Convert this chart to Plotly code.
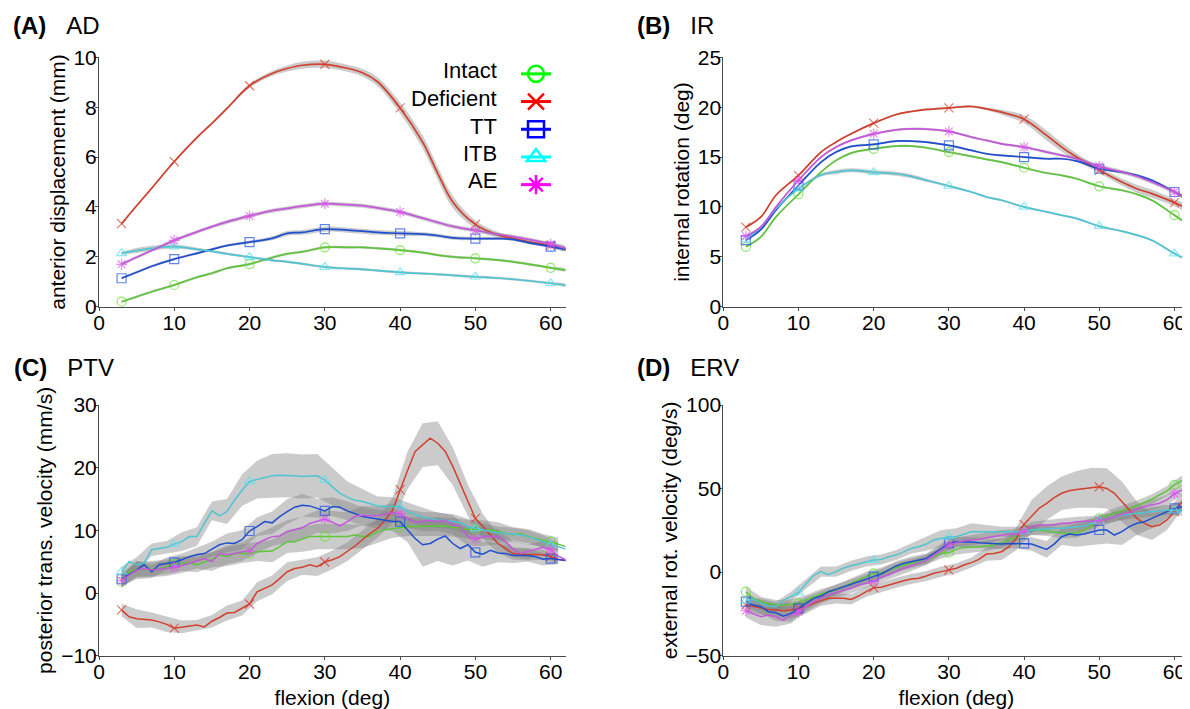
import plotly.graph_objects as go

FONT = "Liberation Sans, Arial, Helvetica, sans-serif"

# ---------------- data ----------------
series = ["Intact", "Deficient", "TT", "ITB", "AE"]
line_colors = {"Intact": "#5ec53a", "Deficient": "#d2402e", "TT": "#1f4fcf",
               "ITB": "#4fc4d2", "AE": "#c457dc"}
marker_colors = {"Intact": "#5ee02c", "Deficient": "#dc3a2a", "TT": "#1e50e6",
                 "ITB": "#55e3f0", "AE": "#e055f0"}
legend_colors = {"Intact": "#00ff00", "Deficient": "#ff0000", "TT": "#0000ff",
                 "ITB": "#00ffff", "AE": "#ff00ff"}
symbols = {"Intact": "circle-open", "Deficient": "x-thin-open", "TT": "square-open",
           "ITB": "triangle-up-open", "AE": "asterisk-open"}

marker_flexion = [3, 10, 20, 30, 40, 50, 60]
x_ticks = [0, 10, 20, 30, 40, 50, 60]

flexion_ab = [3, 5, 7, 10, 13, 15, 17, 20, 23, 25, 27, 30, 33, 35, 37, 40, 43, 45, 47, 50, 53, 55, 57, 60, 62]
flexion_cd = list(range(3, 63))

# (A) anterior displacement (mm)
ad_intact = [0.20, 0.40, 0.60, 0.87, 1.18, 1.34, 1.54, 1.71, 1.97, 2.12, 2.20, 2.38, 2.38, 2.38, 2.34, 2.27, 2.17, 2.07, 2.00, 1.94, 1.87, 1.80, 1.71, 1.56, 1.47]
ad_deficient = [3.33, 4.05, 4.75, 5.82, 6.78, 7.35, 7.95, 8.86, 9.35, 9.55, 9.68, 9.72, 9.56, 9.38, 9.02, 7.97, 6.60, 5.35, 4.20, 3.30, 2.88, 2.74, 2.60, 2.45, 2.30]
ad_tt = [1.14, 1.38, 1.62, 1.91, 2.14, 2.30, 2.45, 2.59, 2.74, 2.94, 2.98, 3.11, 3.07, 3.03, 2.98, 2.94, 2.91, 2.85, 2.76, 2.73, 2.73, 2.70, 2.57, 2.41, 2.30]
ad_itb = [2.14, 2.25, 2.34, 2.41, 2.30, 2.22, 2.12, 1.99, 1.86, 1.80, 1.72, 1.59, 1.53, 1.50, 1.45, 1.38, 1.33, 1.30, 1.26, 1.20, 1.15, 1.10, 1.04, 0.94, 0.86]
ad_ae = [1.70, 1.98, 2.25, 2.66, 3.00, 3.21, 3.40, 3.64, 3.85, 3.94, 4.03, 4.13, 4.09, 4.05, 3.96, 3.80, 3.55, 3.38, 3.22, 3.06, 2.90, 2.81, 2.70, 2.51, 2.34]
ad_band_intact = [0.05, 0.05, 0.05, 0.05, 0.05, 0.05, 0.05, 0.05, 0.05, 0.05, 0.05, 0.05, 0.05, 0.05, 0.05, 0.05, 0.05, 0.05, 0.05, 0.05, 0.05, 0.05, 0.05, 0.05, 0.05]
ad_band_deficient = [0.05, 0.05, 0.05, 0.05, 0.05, 0.05, 0.06, 0.08, 0.10, 0.12, 0.14, 0.15, 0.14, 0.15, 0.18, 0.22, 0.26, 0.26, 0.24, 0.16, 0.12, 0.10, 0.08, 0.08, 0.08]
ad_band_tt = [0.05, 0.05, 0.05, 0.05, 0.05, 0.05, 0.05, 0.06, 0.08, 0.10, 0.10, 0.10, 0.10, 0.10, 0.10, 0.10, 0.08, 0.08, 0.08, 0.06, 0.06, 0.06, 0.06, 0.06, 0.06]
ad_band_itb = [0.06, 0.10, 0.10, 0.08, 0.06, 0.05, 0.05, 0.05, 0.05, 0.05, 0.05, 0.05, 0.05, 0.05, 0.05, 0.05, 0.05, 0.05, 0.05, 0.05, 0.05, 0.05, 0.05, 0.05, 0.05]
ad_band_ae = [0.06, 0.06, 0.06, 0.07, 0.07, 0.07, 0.08, 0.08, 0.08, 0.08, 0.08, 0.08, 0.08, 0.08, 0.08, 0.08, 0.08, 0.08, 0.08, 0.08, 0.07, 0.07, 0.07, 0.07, 0.07]

# (B) internal rotation (deg)
ir_intact = [6.0, 7.0, 9.0, 11.27, 13.5, 14.67, 15.4, 15.83, 16.1, 16.1, 15.93, 15.5, 15.07, 14.77, 14.5, 13.93, 13.4, 13.17, 12.83, 12.07, 11.67, 11.27, 10.67, 9.17, 8.17]
ir_deficient = [7.97, 9.0, 11.17, 13.17, 15.5, 16.5, 17.33, 18.4, 19.27, 19.57, 19.77, 19.93, 20.07, 19.83, 19.5, 18.8, 17.17, 16.0, 15.0, 13.67, 12.5, 11.83, 11.33, 10.43, 9.73]
ir_tt = [6.67, 7.73, 9.67, 12.17, 14.5, 15.5, 16.07, 16.27, 16.6, 16.6, 16.5, 16.17, 15.67, 15.33, 15.17, 15.0, 14.83, 14.83, 14.6, 13.83, 13.5, 13.17, 12.67, 11.5, 10.67]
ir_itb = [6.73, 8.0, 9.83, 11.83, 13.2, 13.5, 13.67, 13.47, 13.33, 13.07, 12.67, 12.1, 11.5, 11.0, 10.67, 10.0, 9.5, 9.17, 8.83, 8.07, 7.57, 7.17, 6.67, 5.33, 4.57]
ir_ae = [7.07, 8.0, 10.0, 12.67, 15.0, 16.0, 16.67, 17.33, 17.73, 17.83, 17.8, 17.57, 17.0, 16.67, 16.33, 16.0, 15.5, 15.17, 14.83, 14.07, 13.5, 13.07, 12.5, 11.5, 10.67]
ir_band_intact = [0.1, 0.1, 0.1, 0.1, 0.1, 0.1, 0.1, 0.1, 0.1, 0.1, 0.1, 0.1, 0.1, 0.1, 0.1, 0.1, 0.1, 0.1, 0.1, 0.1, 0.1, 0.1, 0.1, 0.1, 0.1]
ir_band_deficient = [0.1, 0.1, 0.1, 0.1, 0.1, 0.1, 0.1, 0.1, 0.1, 0.1, 0.1, 0.1, 0.12, 0.15, 0.25, 0.4, 0.5, 0.45, 0.35, 0.3, 0.35, 0.4, 0.4, 0.35, 0.3]
ir_band_tt = [0.1, 0.1, 0.1, 0.1, 0.1, 0.1, 0.1, 0.1, 0.1, 0.1, 0.1, 0.1, 0.1, 0.1, 0.1, 0.1, 0.1, 0.1, 0.1, 0.12, 0.12, 0.12, 0.12, 0.12, 0.12]
ir_band_itb = [0.1, 0.1, 0.1, 0.12, 0.15, 0.2, 0.2, 0.2, 0.2, 0.2, 0.15, 0.12, 0.1, 0.1, 0.1, 0.1, 0.1, 0.1, 0.1, 0.1, 0.1, 0.1, 0.1, 0.1, 0.1]
ir_band_ae = [0.12, 0.12, 0.12, 0.12, 0.12, 0.12, 0.12, 0.12, 0.12, 0.12, 0.12, 0.12, 0.12, 0.12, 0.12, 0.12, 0.15, 0.15, 0.18, 0.2, 0.2, 0.2, 0.2, 0.2, 0.2]

# (C) posterior translational velocity (mm/s)
ptv_intact = [1.8, 3.4, 3.8, 3.9, 3.9, 3.8, 4.2, 4.6, 4.7, 4.8, 4.5, 5.0, 5.3, 6.1, 5.8, 6.3, 6.3, 6.3, 6.6, 6.6, 6.7, 7.4, 8.2, 8.2, 8.6, 9.0, 9.0, 9.0, 9.0, 9.1, 9.0, 9.3, 9.0, 9.1, 9.8, 10.1, 10.3, 10.5, 10.6, 10.6, 10.6, 10.6, 10.6, 10.7, 10.5, 10.3, 10.2, 10.1, 10.1, 10.1, 9.8, 9.5, 9.3, 9.5, 9.0, 8.7, 8.4, 8.2, 7.8, 7.4]
ptv_deficient = [-2.7, -3.8, -4.1, -4.2, -4.3, -4.6, -5.0, -5.6, -5.4, -5.2, -5.1, -5.4, -4.5, -3.9, -3.2, -3.1, -2.4, -1.75, 0.2, 0.7, 1.3, 2.3, 3.4, 3.9, 4.1, 4.5, 4.2, 4.95, 5.3, 5.8, 6.6, 7.5, 8.5, 9.5, 10.3, 11.6, 13.2, 16.5, 19.6, 22.6, 23.6, 24.7, 23.9, 22.6, 20.2, 17.5, 14.8, 11.9, 10.6, 9.3, 7.9, 7.1, 6.3, 6.2, 6.2, 6.1, 6.1, 5.8, 5.4, 5.2]
ptv_tt = [2.2, 2.9, 3.7, 4.5, 3.4, 4.5, 4.7, 4.9, 5.3, 5.8, 6.1, 6.3, 7.0, 7.7, 8.0, 7.9, 8.5, 9.9, 10.6, 11.4, 11.2, 12.2, 13.0, 13.7, 14.0, 13.9, 13.5, 13.1, 13.8, 13.7, 13.1, 12.6, 12.2, 12.0, 11.8, 11.5, 11.4, 11.4, 10.1, 8.7, 7.7, 7.9, 8.6, 9.1, 7.9, 7.1, 7.7, 6.5, 6.2, 6.8, 6.4, 6.3, 6.0, 6.0, 6.0, 5.8, 5.4, 5.5, 5.4, 5.2]
ptv_itb = [3.4, 5.0, 4.5, 4.8, 6.9, 7.1, 7.3, 7.8, 8.2, 9.0, 9.0, 11.1, 13.1, 12.3, 13.0, 14.8, 16.4, 17.8, 18.1, 18.5, 18.7, 18.8, 18.8, 18.7, 18.6, 18.7, 18.7, 18.0, 17.0, 15.9, 15.3, 14.8, 14.6, 14.3, 13.9, 13.8, 13.8, 13.8, 13.0, 12.6, 12.1, 11.9, 11.6, 11.6, 11.4, 11.2, 10.6, 10.3, 10.1, 9.8, 9.6, 9.5, 9.4, 9.3, 9.0, 8.6, 8.2, 7.7, 7.3, 7.0]
ptv_ae = [2.0, 2.9, 3.7, 3.9, 3.7, 3.8, 3.9, 4.1, 4.4, 4.7, 5.1, 5.5, 5.0, 6.3, 6.1, 6.3, 6.6, 6.7, 7.9, 8.5, 9.0, 9.1, 9.8, 10.1, 10.4, 11.1, 11.4, 11.8, 11.3, 10.7, 11.4, 12.2, 12.4, 12.3, 12.3, 12.6, 12.8, 12.7, 11.9, 11.3, 11.4, 11.6, 11.4, 11.6, 10.9, 10.6, 9.0, 8.6, 9.0, 9.0, 9.0, 8.2, 7.0, 6.3, 6.6, 6.9, 7.3, 6.9, 5.9, 5.3]
# band half-widths at every second sample (flexion 3, 5, ..., 61)
ptv_band_intact = [1.0, 1.2, 1.2, 1.2, 1.2, 1.2, 1.2, 1.5, 1.5, 1.5, 1.8, 1.8, 2.0, 2.0, 2.0, 2.0, 1.8, 1.8, 1.5, 1.5, 1.5, 1.5, 1.5, 1.5, 1.5, 1.5, 1.2, 1.2, 1.0, 1.0]
ptv_band_deficient = [1.0, 1.5, 1.2, 1.2, 1.0, 0.8, 1.0, 1.2, 1.2, 1.5, 1.5, 1.5, 1.2, 1.5, 1.5, 1.5, 1.5, 1.5, 2.0, 3.0, 3.5, 3.5, 3.0, 2.5, 2.0, 1.5, 1.0, 1.0, 0.8, 0.8]
ptv_band_tt = [1.0, 1.5, 1.0, 1.0, 1.0, 1.2, 1.2, 1.5, 1.5, 1.5, 1.8, 2.0, 1.8, 1.5, 1.5, 1.5, 1.5, 1.5, 1.5, 2.0, 3.5, 3.5, 3.5, 2.5, 2.0, 1.5, 1.2, 1.0, 1.0, 0.8]
ptv_band_itb = [0.8, 1.2, 1.0, 1.0, 1.5, 1.5, 1.5, 2.0, 2.5, 3.0, 3.5, 3.5, 3.5, 3.5, 3.0, 2.5, 2.0, 1.5, 1.5, 1.5, 1.5, 1.2, 1.2, 1.2, 1.0, 1.0, 1.0, 1.0, 1.0, 0.8]
ptv_band_ae = [1.0, 1.2, 1.2, 1.2, 1.2, 1.2, 1.5, 1.5, 1.5, 1.5, 1.5, 1.8, 1.8, 1.8, 1.8, 1.5, 1.5, 1.5, 1.5, 1.5, 1.5, 1.5, 1.5, 1.5, 1.5, 1.2, 1.2, 1.2, 1.0, 1.0]

# (D) external rotational velocity (deg/s)
erv_intact = [-11.7, -15.7, -17.7, -18.7, -19.7, -19.7, -19.3, -18.7, -16.7, -14.7, -13.1, -11.7, -10.7, -8.7, -6.7, -5.1, -2.7, -0.7, -0.3, 1.3, 2.9, 4.3, 5.3, 6.3, 7.6, 9.6, 11.2, 11.6, 13.6, 14.8, 14.8, 15.2, 15.6, 16.2, 17.6, 19.2, 21.2, 24.2, 25.2, 25.2, 24.6, 23.6, 23.2, 23.2, 23.6, 25.2, 27.6, 32.2, 33.6, 35.2, 36.8, 38.2, 39.8, 41.6, 43.6, 46.2, 48.6, 52.2, 54.8, 57.5]
erv_deficient = [-19.7, -20.7, -21.7, -22.3, -22.7, -23.1, -22.7, -21.7, -20.7, -18.7, -17.1, -15.7, -15.7, -15.7, -16.3, -14.3, -11.7, -9.3, -9.1, -7.7, -6.3, -5.1, -4.1, -3.7, -2.3, -0.7, 0.3, 1.3, 2.3, 4.3, 5.7, 7.6, 10.8, 11.2, 12.2, 15.2, 20.2, 28.6, 33.2, 38.2, 41.2, 44.6, 47.2, 48.7, 49.5, 49.9, 50.5, 51.1, 50.1, 47.2, 42.2, 37.2, 32.2, 29.2, 27.2, 28.2, 31.2, 36.2, 42.2, 46.2]
erv_tt = [-17.7, -19.7, -20.7, -23.7, -24.3, -26.3, -24.7, -21.7, -18.7, -15.7, -14.3, -11.7, -10.3, -8.7, -7.1, -5.7, -4.3, -2.7, -1.1, 1.3, 3.7, 5.3, 6.3, 7.6, 8.2, 11.2, 14.2, 17.2, 18.2, 18.2, 18.0, 17.6, 17.2, 17.2, 16.8, 17.2, 17.2, 17.2, 16.8, 15.2, 13.6, 16.8, 21.2, 22.8, 22.2, 22.8, 24.2, 25.2, 25.2, 22.2, 24.2, 27.2, 29.2, 30.2, 32.2, 34.2, 36.2, 38.2, 39.2, 39.8]
erv_itb = [-17.1, -16.3, -18.7, -20.3, -20.7, -16.7, -14.7, -12.3, -7.0, -2.0, 0.3, -1.5, 0.3, 2.5, 3.8, 4.9, 6.3, 7.2, 7.6, 9.2, 10.2, 12.2, 14.2, 15.2, 16.8, 19.2, 20.2, 21.2, 21.2, 22.8, 24.2, 24.2, 24.2, 24.2, 24.2, 24.2, 24.2, 24.2, 25.2, 25.6, 25.6, 26.2, 26.2, 26.8, 27.2, 27.6, 29.2, 30.6, 32.2, 33.2, 34.2, 34.8, 35.2, 35.6, 36.2, 36.8, 37.2, 36.8, 36.8, 37.2]
erv_ae = [-23.1, -25.1, -26.7, -25.7, -26.7, -28.7, -25.7, -23.7, -20.7, -17.7, -15.7, -13.7, -12.3, -10.7, -9.7, -7.7, -6.7, -5.7, -3.1, -1.7, 0.3, 2.3, 3.7, 5.3, 7.2, 10.2, 13.2, 16.2, 17.6, 18.8, 19.2, 19.6, 20.6, 21.2, 22.2, 22.8, 22.8, 24.2, 27.2, 28.2, 28.2, 28.2, 29.2, 29.2, 30.2, 30.2, 30.6, 30.8, 31.6, 33.2, 34.2, 35.6, 37.6, 39.2, 40.2, 41.2, 43.2, 46.8, 49.2, 50.2]
erv_band_intact = [3, 3, 3, 3, 3, 3, 3, 3, 3, 3, 3, 3, 3, 3, 3, 3, 3, 3, 3, 3, 3, 3, 3, 3, 3, 3, 3, 3, 3, 3]
erv_band_deficient = [3, 4, 4, 5, 4, 3, 3, 3, 3, 3, 3, 3, 3, 3, 3, 3, 4, 5, 7, 10, 10, 10, 11, 12, 12, 12, 10, 8, 6, 5]
erv_band_tt = [3, 4, 5, 5, 4, 3, 3, 3, 3, 3, 3, 3, 3, 3, 3, 3, 3, 3, 3, 4, 5, 5, 7, 8, 8, 8, 7, 6, 4, 3]
erv_band_itb = [3, 3, 3, 3, 3, 3, 3, 3, 3, 3, 3, 3, 4, 5, 5, 5, 4, 3, 3, 3, 3, 3, 3, 3, 3, 3, 3, 3, 3, 3]
erv_band_ae = [4, 5, 6, 5, 3, 3, 3, 3, 3, 3, 3, 3, 3, 3, 3, 3, 3, 3, 3, 3, 3, 3, 3, 3, 3, 3, 3, 3, 3, 3]

panels = [
    dict(key="A", title="AD", ytitle="anterior displacement (mm)", x=flexion_ab, step=1, shape="spline",
         yrange=[0, 10], ytick=[0, 2, 4, 6, 8, 10], lw=1.7,
         vals=[ad_intact, ad_deficient, ad_tt, ad_itb, ad_ae],
         bands=[ad_band_intact, ad_band_deficient, ad_band_tt, ad_band_itb, ad_band_ae]),
    dict(key="B", title="IR", ytitle="internal rotation (deg)", x=flexion_ab, step=1, shape="spline",
         yrange=[0, 25], ytick=[0, 5, 10, 15, 20, 25], lw=1.7,
         vals=[ir_intact, ir_deficient, ir_tt, ir_itb, ir_ae],
         bands=[ir_band_intact, ir_band_deficient, ir_band_tt, ir_band_itb, ir_band_ae]),
    dict(key="C", title="PTV", ytitle="posterior trans. velocity (mm/s)", x=flexion_cd, step=2, shape="linear",
         yrange=[-10, 30], ytick=[-10, 0, 10, 20, 30], lw=1.5,
         vals=[ptv_intact, ptv_deficient, ptv_tt, ptv_itb, ptv_ae],
         bands=[ptv_band_intact, ptv_band_deficient, ptv_band_tt, ptv_band_itb, ptv_band_ae]),
    dict(key="D", title="ERV", ytitle="external rot. velocity (deg/s)", x=flexion_cd, step=2, shape="linear",
         yrange=[-50, 100], ytick=[-50, 0, 50, 100], lw=1.5,
         vals=[erv_intact, erv_deficient, erv_tt, erv_itb, erv_ae],
         bands=[erv_band_intact, erv_band_deficient, erv_band_tt, erv_band_itb, erv_band_ae]),
]

# The page body has an 8px margin, so the figure is sized and positioned to fit the window.
OFF = 8
W, H = 1190 - OFF, 709 - OFF


def px(v):
    return (v - OFF) / W


def py(v):
    return 1 - (v - OFF) / H


x_dom = {"A": [px(99), px(565.7)], "B": [px(723.3), px(1189.5)],
         "C": [px(99), px(565.7)], "D": [px(723.3), px(1189.5)]}
y_dom = {"A": [py(306.7), py(57.3)], "B": [py(306.7), py(57.3)],
         "C": [py(655.7), py(405)], "D": [py(655.7), py(405)]}
title_pos = {"A": (11, 26), "B": (635, 26), "C": (12, 367), "D": (635, 367)}

BAND = "rgba(125,125,125,0.40)"
AXC = "#4a4a4a"

fig = go.Figure()
layout = {}
annotations = []

for i, p in enumerate(panels):
    n = "" if i == 0 else str(i + 1)
    xa, ya = "x" + n, "y" + n
    xs = p["x"]
    st = p["step"]
    for s, v, b in zip(series, p["vals"], p["bands"]):
        bx = xs[::st]
        bc = v[::st]
        up = [c + h for c, h in zip(bc, b)]
        lo = [c - h for c, h in zip(bc, b)]
        fig.add_trace(go.Scatter(x=bx + bx[::-1], y=up + lo[::-1], fill="toself", fillcolor=BAND,
                                 line=dict(width=0, shape=p["shape"]), mode="lines",
                                 hoverinfo="skip", showlegend=False, xaxis=xa, yaxis=ya))
    for s, v in zip(series, p["vals"]):
        sizes = [9 if xv in marker_flexion else 0 for xv in xs]
        fig.add_trace(go.Scatter(x=xs, y=v, mode="lines+markers", name=s, showlegend=False,
                                 line=dict(color=line_colors[s], width=p["lw"], shape=p["shape"]),
                                 marker=dict(symbol=symbols[s], size=sizes, color=marker_colors[s],
                                             line=dict(color=marker_colors[s], width=1.2)),
                                 xaxis=xa, yaxis=ya))
    k = p["key"]
    layout["xaxis" + n] = dict(domain=x_dom[k], range=[0, 62], tickvals=x_ticks, anchor=ya,
                               showline=True, linecolor=AXC, linewidth=1, ticks="outside",
                               ticklen=3, tickcolor=AXC, showgrid=False, zeroline=False,
                               ticklabelstandoff=-6,
                               tickfont=dict(size=21, color="black", family=FONT),
                               title=dict(text="flexion (deg)" if k in "CD" else "",
                                          font=dict(size=21, color="black", family=FONT), standoff=10))
    layout["yaxis" + n] = dict(domain=y_dom[k], range=p["yrange"], tickvals=p["ytick"], anchor=xa,
                               showline=True, linecolor=AXC, linewidth=1, ticks="outside",
                               ticklen=3, tickcolor=AXC, showgrid=False, zeroline=False,
                               ticklabelstandoff=-6,
                               tickfont=dict(size=21, color="black", family=FONT),
                               title=dict(text=p["ytitle"], font=dict(size=21, color="black", family=FONT),
                                          standoff=2))
    tx, ty = title_pos[k]
    annotations.append(dict(text="<b>(" + k + ")</b>\u00a0\u00a0\u00a0" + p["title"], xref="paper", yref="paper",
                            x=px(tx), y=py(ty), xanchor="left", yanchor="middle", showarrow=False,
                            font=dict(size=24, color="black", family=FONT)))

# legend: symbols from the native legend, names as right-aligned labels beside them
legend_rows = [70, 98, 126, 153, 181]
for s, ry in zip(series, legend_rows):
    fig.add_trace(go.Scatter(x=[None], y=[None], mode="lines+markers", name=" ", showlegend=True,
                             line=dict(color=legend_colors[s], width=3),
                             marker=dict(symbol=symbols[s], size=16, color=legend_colors[s],
                                         line=dict(color=legend_colors[s], width=2.5)),
                             xaxis="x", yaxis="y"))
    annotations.append(dict(text=s, xref="paper", yref="paper", x=px(499), y=py(ry),
                            xanchor="right", yanchor="middle", showarrow=False,
                            font=dict(size=22, color="black", family=FONT)))

fig.update_layout(**layout)
fig.update_layout(
    width=W, height=H, template="none",
    margin=dict(l=0, r=0, t=0, b=0),
    paper_bgcolor="white", plot_bgcolor="rgba(0,0,0,0)",
    font=dict(family=FONT, size=21, color="black"),
    annotations=annotations,
    showlegend=True,
    legend=dict(x=px(516), y=py(55), xanchor="left", yanchor="top",
                bgcolor="rgba(0,0,0,0)", borderwidth=0, font=dict(size=19, family=FONT),
                itemwidth=30, tracegroupgap=0),
)

fig.write_html("out.html")
